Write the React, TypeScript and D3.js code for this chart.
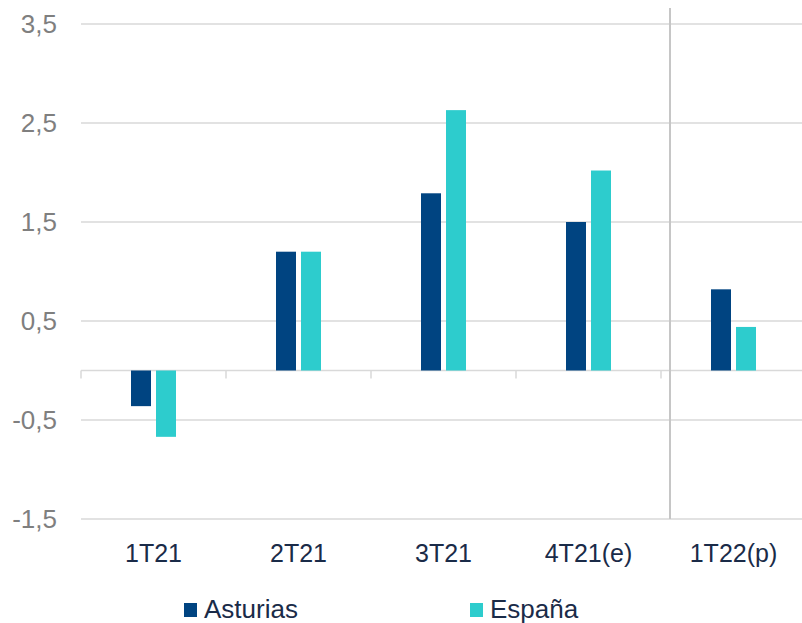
import React from "react";
import * as d3 from "d3";

const categories = ["1T21", "2T21", "3T21", "4T21(e)", "1T22(p)"];
const seriesNames = ["Asturias", "España"];
const asturias = [-0.36, 1.2, 1.79, 1.5, 0.82];
const espana = [-0.67, 1.2, 2.63, 2.02, 0.44];
const yTicks = [3.5, 2.5, 1.5, 0.5, -0.5, -1.5];
const colors = ["#004481", "#2DCCCD"];

const W = 802;
const H = 623;

export default function App() {
  const x = d3.scaleBand<string>().domain(categories).range([81, 806]).paddingInner(0).paddingOuter(0);
  const y = d3.scaleLinear().domain([-1.5, 3.5]).range([519, 24]);
  const fmt = (v: number) => d3.format(".1f")(v).replace(".", ",").replace("−", "-");
  const values = [asturias, espana];
  const y0 = y(0);
  const boundaries = categories.map((c) => x(c) as number);
  const sepX = (x("1T22(p)") as number) + 9;

  return (
    <svg width={W} height={H} style={{ position: "absolute", left: 0, top: 0, background: "#fff" }}
      fontFamily="'Liberation Sans', Arial, sans-serif">
      {yTicks.map((t) => (
        <g key={t}>
          <line x1={81} x2={W} y1={y(t)} y2={y(t)} stroke="#d9d9d9" strokeWidth={1.5} />
          <text x={57} y={y(t)} dy="0.36em" textAnchor="end" fontSize={26} fill="#7f7f7f">{fmt(t)}</text>
        </g>
      ))}
      <line x1={81} x2={W} y1={y0} y2={y0} stroke="#d9d9d9" strokeWidth={1.5} />
      {boundaries.map((b, i) => (
        <line key={i} x1={b} x2={b} y1={y0} y2={y0 + 8} stroke="#d9d9d9" strokeWidth={1.5} />
      ))}
      <line x1={sepX} x2={sepX} y1={8} y2={519} stroke="#c6c6c6" strokeWidth={2} />
      {categories.map((c, i) => {
        const cx = (x(c) as number) + x.bandwidth() / 2;
        const x1 = d3.scaleBand<string>().domain(seriesNames).range([cx - 22.5, cx + 22.5]).paddingInner(0.2);
        return (
          <g key={c}>
            {seriesNames.map((s, j) => {
              const v = values[j][i];
              const top = Math.min(y(v), y0);
              const h = Math.abs(y(v) - y0);
              return (
                <rect key={s} x={x1(s)} y={top} width={x1.bandwidth()} height={h} fill={colors[j]} />
              );
            })}
            <text x={cx} y={562} textAnchor="middle" fontSize={25} fill="#1a2b48">{c}</text>
          </g>
        );
      })}
      {seriesNames.map((s, j) => {
        const lx = [184, 470][j];
        return (
          <g key={s}>
            <rect x={lx} y={603} width={13} height={14} fill={colors[j]} />
            <text x={lx + 20} y={618} fontSize={26} fill="#1a2b48">{s}</text>
          </g>
        );
      })}
    </svg>
  );
}
